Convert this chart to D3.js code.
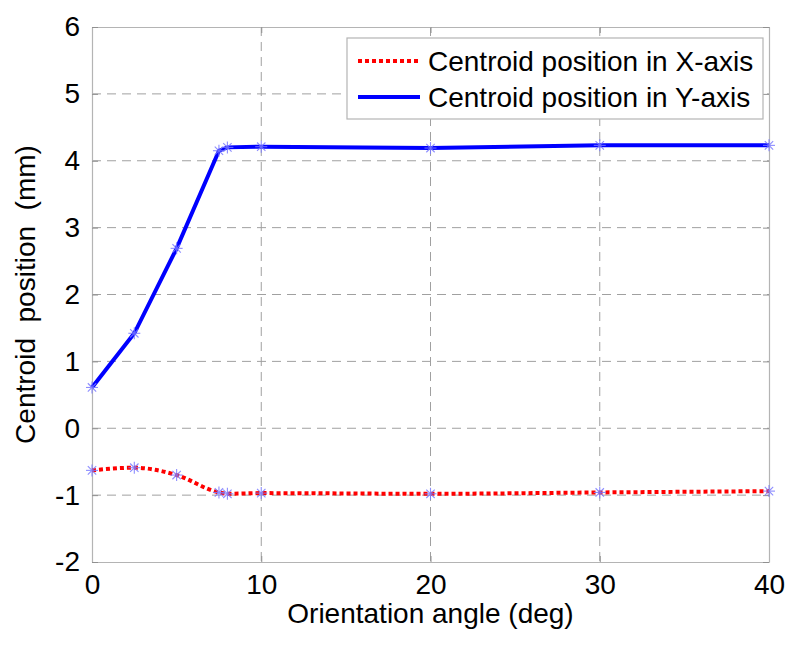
<!DOCTYPE html>
<html lang="en">
<head>
  <title>Centroid position</title>
  <meta charset="UTF-8">
  <style>
    body { margin: 0; background: #fff; font-family: "Liberation Sans", Arial, sans-serif; }
  </style>
  <script src="https://cdn.jsdelivr.net/npm/d3@7"></script>
</head>
<body>
  <script>
    // angles (deg) and centroid positions (mm)
    var angles = [0, 2.5, 5, 7.5, 8, 10, 20, 30, 40];
    var posX = [-0.63, -0.59, -0.70, -0.96, -0.98, -0.97, -0.98, -0.96, -0.94];
    var posY = [0.61, 1.42, 2.69, 4.15, 4.20, 4.21, 4.19, 4.23, 4.23];
    var xTicks = [0, 10, 20, 30, 40];
    var yTicks = [-2, -1, 0, 1, 2, 3, 4, 5, 6];
    var seriesNames = ["Centroid position in X-axis", "Centroid position in Y-axis"];

    (function() {
      var W = 800, H = 648;
      var pL = 92, pR = 769, pT = 27, pB = 562;
      var fontSize = "28px";
      var plain = function(d) { return String(d); }; // keep ASCII hyphen for negatives

      var svg = d3.select("body").append("svg").attr("width", W).attr("height", H);

      var x = d3.scaleLinear().domain([0, 40]).range([pL, pR]);
      var y = d3.scaleLinear().domain([-2, 6]).range([pB, pT]);

      // grid
      var grid = svg.append("g").attr("stroke", "#a0a0a0").attr("stroke-width", 1)
        .attr("stroke-dasharray", "9,6");
      grid.selectAll(".gx").data(xTicks.slice(1, -1)).enter().append("line")
        .attr("x1", function(d) { return x(d); }).attr("x2", function(d) { return x(d); })
        .attr("y1", pT).attr("y2", pB);
      grid.selectAll(".gy").data(yTicks.slice(1, -1)).enter().append("line")
        .attr("y1", function(d) { return y(d); }).attr("y2", function(d) { return y(d); })
        .attr("x1", pL).attr("x2", pR);

      // axes
      var axB = svg.append("g").attr("transform", "translate(0," + pB + ")")
        .call(d3.axisBottom(x).tickValues(xTicks).tickSizeInner(-6).tickSizeOuter(0).tickPadding(12).tickFormat(plain));
      var axT = svg.append("g").attr("transform", "translate(0," + pT + ")")
        .call(d3.axisTop(x).tickValues(xTicks).tickSizeInner(-6).tickSizeOuter(0).tickFormat(""));
      var axL = svg.append("g").attr("transform", "translate(" + pL + ",0)")
        .call(d3.axisLeft(y).tickValues(yTicks).tickSizeInner(-6).tickSizeOuter(0).tickPadding(12).tickFormat(plain));
      var axR = svg.append("g").attr("transform", "translate(" + pR + ",0)")
        .call(d3.axisRight(y).tickValues(yTicks).tickSizeInner(-6).tickSizeOuter(0).tickFormat(""));
      [axB, axT, axL, axR].forEach(function(a) {
        a.selectAll("path").attr("stroke", "#b4b4b4").attr("stroke-width", 1.2);
        a.selectAll("line").attr("stroke", "#909090");
        a.selectAll("text").attr("fill", "#000").style("font-size", fontSize)
          .style("font-family", "'Liberation Sans', Arial, sans-serif");
      });

      // axis titles
      svg.append("text")
        .attr("x", (pL + pR) / 2).attr("y", 623)
        .attr("text-anchor", "middle").style("font-size", fontSize)
        .text("Orientation angle (deg)");
      svg.append("text")
        .attr("transform", "translate(35," + ((pT + pB) / 2) + ")rotate(-90)")
        .attr("text-anchor", "middle").style("font-size", fontSize)
        .style("white-space", "pre")
        .text("Centroid  position  (mm)");

      // lines
      var ptsX = angles.map(function(a, i) { return [a, posX[i]]; });
      var ptsY = angles.map(function(a, i) { return [a, posY[i]]; });
      var line = d3.line().x(function(d) { return x(d[0]); }).y(function(d) { return y(d[1]); });

      svg.append("path").datum(ptsX)
        .attr("d", line.curve(d3.curveMonotoneX))
        .attr("fill", "none").attr("stroke", "#ff0000").attr("stroke-width", 4)
        .attr("stroke-dasharray", "4,3");
      svg.append("path").datum(ptsY)
        .attr("d", line.curve(d3.curveLinear))
        .attr("fill", "none").attr("stroke", "#0000ff").attr("stroke-width", 4);

      // asterisk markers
      function star(g, pts) {
        var m = g.selectAll(null).data(pts).enter().append("g")
          .attr("transform", function(d) { return "translate(" + x(d[0]) + "," + y(d[1]) + ")"; })
          .attr("stroke", "#7a7aff").attr("stroke-width", 1.1).attr("opacity", 0.85);
        var r = 6;
        [[-r, 0, r, 0], [0, -r, 0, r], [-r * 0.7, -r * 0.7, r * 0.7, r * 0.7], [-r * 0.7, r * 0.7, r * 0.7, -r * 0.7]]
          .forEach(function(s) {
            m.append("line").attr("x1", s[0]).attr("y1", s[1]).attr("x2", s[2]).attr("y2", s[3]);
          });
      }
      star(svg.append("g"), ptsX);
      star(svg.append("g"), ptsY);

      // legend
      var lg = svg.append("g");
      lg.append("rect").attr("x", 347).attr("y", 38).attr("width", 416).attr("height", 81)
        .attr("fill", "#fff").attr("stroke", "#b4b4b4").attr("stroke-width", 1.2);
      var rows = [
        { name: seriesNames[0], color: "#ff0000", dash: "4,3", cy: 61 },
        { name: seriesNames[1], color: "#0000ff", dash: null, cy: 97 }
      ];
      rows.forEach(function(r) {
        lg.append("line").attr("x1", 358).attr("x2", 420).attr("y1", r.cy).attr("y2", r.cy)
          .attr("stroke", r.color).attr("stroke-width", 4).attr("stroke-dasharray", r.dash);
        lg.append("text").attr("x", 428).attr("y", r.cy + 10).style("font-size", fontSize).text(r.name);
      });
    })();
  </script>
</body>
</html>
